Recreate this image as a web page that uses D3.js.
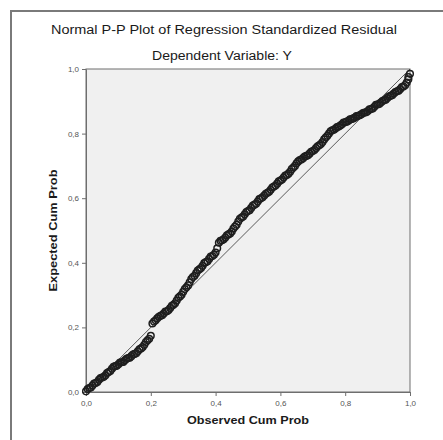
<!DOCTYPE html>
<html><head><meta charset="utf-8">
<script src="https://cdn.jsdelivr.net/npm/d3@7"></script>
<style>body{margin:0;background:#fff}svg{display:block}</style>
</head><body>
<script>
const titleText = "Normal P-P Plot of Regression Standardized Residual";
const subtitleText = "Dependent Variable: Y";
const xTitle = "Observed Cum Prob";
const yTitle = "Expected Cum Prob";
const tickValues = [0, 0.2, 0.4, 0.6, 0.8, 1.0];
const tickLabels = ["0,0", "0,2", "0,4", "0,6", "0,8", "1,0"];
const observed = [0.00,0.01,0.02,0.03,0.04,0.05,0.06,0.07,0.08,0.09,0.10,0.11,0.12,0.13,0.14,0.15,0.16,0.17,0.18,0.19,0.20,0.205,0.21,0.22,0.23,0.24,0.25,0.26,0.27,0.28,0.29,0.30,0.31,0.32,0.33,0.34,0.35,0.36,0.37,0.38,0.39,0.40,0.41,0.42,0.43,0.44,0.45,0.46,0.47,0.48,0.49,0.50,0.51,0.52,0.53,0.54,0.55,0.56,0.57,0.58,0.59,0.60,0.61,0.62,0.63,0.64,0.65,0.66,0.67,0.68,0.69,0.70,0.71,0.72,0.73,0.74,0.75,0.76,0.77,0.78,0.79,0.80,0.81,0.82,0.83,0.84,0.85,0.86,0.87,0.88,0.89,0.90,0.91,0.92,0.93,0.94,0.95,0.96,0.97,0.98,0.99,0.995,1.00];
const expected = [0.002,0.012,0.020,0.028,0.038,0.045,0.052,0.062,0.072,0.080,0.086,0.092,0.098,0.105,0.111,0.118,0.126,0.135,0.146,0.160,0.174,0.212,0.218,0.228,0.236,0.243,0.250,0.260,0.270,0.283,0.296,0.310,0.324,0.340,0.356,0.368,0.380,0.391,0.402,0.412,0.421,0.432,0.462,0.470,0.478,0.488,0.497,0.512,0.528,0.540,0.550,0.560,0.570,0.580,0.590,0.600,0.608,0.617,0.626,0.636,0.645,0.655,0.664,0.672,0.682,0.695,0.708,0.718,0.724,0.731,0.738,0.746,0.755,0.764,0.774,0.788,0.800,0.810,0.816,0.822,0.829,0.835,0.840,0.845,0.850,0.855,0.860,0.865,0.870,0.876,0.883,0.890,0.896,0.903,0.910,0.917,0.924,0.931,0.938,0.946,0.958,0.975,0.985];
const observed2 = [0.005,0.015,0.025,0.035,0.045,0.055,0.065,0.075,0.085,0.095,0.105,0.115,0.125,0.135,0.145,0.155,0.165,0.175,0.185,0.195,0.215,0.225,0.235,0.245,0.255,0.265,0.275,0.285,0.295,0.305,0.315,0.325,0.335,0.345,0.355,0.365,0.375,0.385,0.395,0.405,0.415,0.425,0.435,0.445,0.455,0.465,0.475,0.485,0.495,0.505,0.515,0.525,0.535,0.545,0.555,0.565,0.575,0.585,0.595,0.605,0.615,0.625,0.635,0.645,0.655,0.665,0.675,0.685,0.695,0.705,0.715,0.725,0.735,0.745,0.755,0.765,0.775,0.785,0.795,0.805,0.815,0.825,0.835,0.845,0.855,0.865,0.875,0.885,0.895,0.905,0.915,0.925,0.935,0.945,0.955,0.965,0.975,0.985,0.995];
const expected2 = [0.009,0.014,0.026,0.031,0.043,0.047,0.059,0.065,0.078,0.081,0.091,0.093,0.103,0.106,0.116,0.120,0.132,0.139,0.155,0.165,0.222,0.233,0.238,0.249,0.254,0.267,0.275,0.292,0.301,0.319,0.330,0.350,0.360,0.376,0.384,0.399,0.405,0.419,0.425,0.445,0.468,0.473,0.485,0.491,0.506,0.518,0.536,0.543,0.557,0.563,0.577,0.583,0.597,0.603,0.614,0.620,0.633,0.639,0.652,0.658,0.670,0.676,0.690,0.700,0.714,0.720,0.729,0.733,0.744,0.749,0.761,0.768,0.782,0.793,0.807,0.812,0.820,0.825,0.834,0.837,0.844,0.847,0.854,0.857,0.864,0.866,0.875,0.878,0.889,0.892,0.901,0.905,0.915,0.919,0.929,0.933,0.944,0.950,0.968];

const W = 443, H = 440;
const svg = d3.select("body").append("svg").attr("width", W).attr("height", H);
const font = "'Liberation Sans', Arial, sans-serif";

// outer frame
svg.append("path").attr("d", `M11,${H+5} L11,11 L${W+5},11`)
  .attr("fill", "none").attr("stroke", "#7a7a7a").attr("stroke-width", 2);

const pL = 86, pR = 410, pT = 69, pB = 392;
const x = d3.scaleLinear().domain([0, 1]).range([pL, pR]);
const y = d3.scaleLinear().domain([0, 1]).range([pB, pT]);

svg.append("rect").attr("x", pL).attr("y", pT).attr("width", pR - pL).attr("height", pB - pT)
  .attr("fill", "#f0f0f0").attr("stroke", "#6e6e6e").attr("stroke-width", 1);

svg.append("text").attr("x", 224).attr("y", 34).attr("text-anchor", "middle")
  .attr("font-family", font).attr("font-size", 12).attr("fill", "#1a1a1a")
  .attr("textLength", 346).attr("lengthAdjust", "spacingAndGlyphs").text(titleText);
svg.append("text").attr("x", 222).attr("y", 60).attr("text-anchor", "middle")
  .attr("font-family", font).attr("font-size", 12).attr("fill", "#1a1a1a")
  .attr("textLength", 140).attr("lengthAdjust", "spacingAndGlyphs").text(subtitleText);

// axes
const fmt = d => tickLabels[tickValues.indexOf(d)];
const xAxis = svg.append("g").attr("transform", `translate(0,${pB})`)
  .call(d3.axisBottom(x).tickValues(tickValues).tickFormat(fmt).tickSize(4).tickSizeOuter(0));
const yAxis = svg.append("g").attr("transform", `translate(${pL},0)`)
  .call(d3.axisLeft(y).tickValues(tickValues).tickFormat(fmt).tickSize(4).tickSizeOuter(0));
[xAxis, yAxis].forEach(g => {
  g.select(".domain").attr("stroke", "#6e6e6e");
  g.selectAll(".tick line").attr("stroke", "#6e6e6e");
  g.selectAll(".tick text").attr("font-family", font).attr("font-size", 8).attr("fill", "#555");
});
xAxis.selectAll(".tick text").attr("dy", "0.9em");

svg.append("text").attr("x", 248).attr("y", 424).attr("text-anchor", "middle")
  .attr("font-family", font).attr("font-size", 11).attr("font-weight", "bold").attr("fill", "#1a1a1a")
  .attr("textLength", 122).attr("lengthAdjust", "spacingAndGlyphs").text(xTitle);
svg.append("text").attr("transform", `translate(57,${(pT + pB) / 2}) rotate(-90)`).attr("text-anchor", "middle")
  .attr("font-family", font).attr("font-size", 11).attr("font-weight", "bold").attr("fill", "#1a1a1a")
  .attr("textLength", 122).attr("lengthAdjust", "spacingAndGlyphs").text(yTitle);

// reference line
svg.append("line").attr("x1", x(0)).attr("y1", y(0)).attr("x2", x(1)).attr("y2", y(1))
  .attr("stroke", "#333").attr("stroke-width", 0.8);

// points
const pts = observed.map((o, i) => [o, expected[i]]).concat(observed2.map((o, i) => [o, expected2[i]]));
svg.append("g").selectAll("circle").data(pts).join("circle")
  .attr("cx", d => x(d[0])).attr("cy", d => y(d[1])).attr("r", 3.3)
  .attr("fill", "none").attr("stroke", "#1e1e1e").attr("stroke-width", 1.5);
</script>
</body></html>
